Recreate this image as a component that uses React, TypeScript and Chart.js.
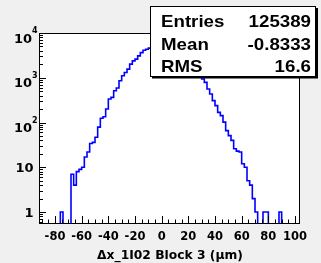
import React, { useEffect, useRef } from 'react';
import { Chart, registerables } from 'chart.js';

Chart.register(...registerables);

// ---- data ----
const binStart = -90;
const binWidth = 2;
const counts = [
  0, 0, 0, 0, 0, 0, 0, 1, 0, 0,
  0, 7, 4, 8, 9, 10, 17, 22, 34, 36,
  47, 79, 125, 135, 201, 336, 365, 514, 590, 857,
  1107, 1312, 1560, 2015, 2387, 2604, 3083, 3650, 4126, 4347,
  4600, 4950, 5250, 5500, 5600, 5550, 5400, 5100, 4750, 4300,
  3850, 3400, 2950, 2550, 2200, 1900, 1650, 1400, 1200, 1050,
  936, 787, 561, 434, 308, 239, 169, 143, 102, 66,
  51, 40, 26, 23, 22, 12, 10, 5, 4, 2,
  1, 0, 0, 1, 1, 0, 0, 0, 0, 1,
  0, 0, 0, 0, 0,
];
const xTickValues = [-80, -60, -40, -20, 0, 20, 40, 60, 80, 100];
const yTickValues = [1, 10, 100, 1000, 10000];
const yTickMantissa = ['1', '10', '10', '10', '10'];
const yTickExponent = ['', '', '2', '3', '4'];
const statsLabels = ['Entries', 'Mean', 'RMS'];
const statsValues = ['125389', '-0.8333', '16.6'];
const xTitle = 'Δx_1I02 Block 3 (μm)';

const X_MIN = -91.25;
const X_MAX = 103.75;
const Y_MIN = 0.57;
const Y_MAX = 10000;
const EMPTY_LEVEL = 0.1; // empty bins drawn below the visible axis range

const FONT = 'DejaVu Sans';

const rootStyle = {
  id: 'rootStyle',
  beforeDraw(chart: any) {
    const { ctx, chartArea: a, width, height } = chart;
    ctx.save();
    ctx.fillStyle = '#f0f0f0';
    ctx.fillRect(0, 0, width, height);
    ctx.fillStyle = '#ffffff';
    ctx.fillRect(a.left, a.top, a.right - a.left, a.bottom - a.top);
    ctx.restore();
  },
  afterDatasetsDraw(chart: any) {
    const { ctx, chartArea: a, scales } = chart;
    const xs = scales.x;
    const ys = scales.y;
    ctx.save();
    ctx.strokeStyle = '#000';
    ctx.lineWidth = 1;
    ctx.beginPath();
    for (let v = -90; v <= 100; v += 5) {
      const px = Math.round(xs.getPixelForValue(v)) + 0.5;
      const len = v % 20 === 0 ? 7 : 3.5;
      ctx.moveTo(px, a.bottom);
      ctx.lineTo(px, a.bottom - len);
    }
    for (let d = -1; d <= 4; d++) {
      for (let m = 1; m <= 9; m++) {
        const v = m * Math.pow(10, d);
        if (v < Y_MIN || v > Y_MAX * 1.0001) continue;
        const py = Math.round(ys.getPixelForValue(v)) + 0.5;
        const len = m === 1 ? 6 : 3;
        ctx.moveTo(a.left, py);
        ctx.lineTo(a.left + len, py);
      }
    }
    ctx.stroke();
    ctx.strokeRect(a.left - 0.5, a.top + 0.5, a.right - a.left, a.bottom - a.top);

    // y labels (ROOT style 10^n)
    ctx.fillStyle = '#000';
    ctx.textAlign = 'right';
    ctx.textBaseline = 'alphabetic';
    yTickValues.forEach((v, i) => {
      const ty = ys.getPixelForValue(v);
      const exp = yTickExponent[i];
      ctx.font = `bold 13px "${FONT}"`;
      if (!exp) {
        ctx.fillText(yTickMantissa[i], 33.5, ty + 4.8);
      } else {
        ctx.fillText(yTickMantissa[i], 32, ty + 9.5);
        ctx.textAlign = 'left';
        ctx.font = `bold 8px "${FONT}"`;
        ctx.fillText(exp, 32, ty + 0.3);
        ctx.textAlign = 'right';
      }
    });
    ctx.restore();
  },
  afterDraw(chart: any) {
    const { ctx } = chart;
    ctx.save();
    // stats box
    ctx.fillStyle = '#000';
    ctx.fillRect(152, 76.5, 166, 2);
    ctx.fillRect(316, 8, 2, 70);
    ctx.fillStyle = '#ffffff';
    ctx.fillRect(150.5, 6.5, 165, 70);
    ctx.strokeStyle = '#000';
    ctx.lineWidth = 1;
    ctx.strokeRect(150.5, 6.5, 165, 70);
    ctx.fillStyle = '#000';
    ctx.font = 'bold 17px "Liberation Sans"';
    ctx.textBaseline = 'alphabetic';
    const sx = 1.1;
    ctx.scale(sx, 1);
    const baselines = [27, 49.5, 72];
    statsLabels.forEach((t, i) => {
      ctx.textAlign = 'left';
      ctx.fillText(t, 161 / sx, baselines[i]);
      ctx.textAlign = 'right';
      ctx.fillText(statsValues[i], 311 / sx, baselines[i]);
    });
    ctx.restore();
  },
};

export default function App() {
  const canvasRef = useRef<HTMLCanvasElement | null>(null);

  useEffect(() => {
    if (!canvasRef.current) return;
    const points = counts.map((c, i) => ({ x: binStart + i * binWidth, y: c > 0 ? c : EMPTY_LEVEL }));
    points.push({ x: binStart + counts.length * binWidth, y: EMPTY_LEVEL });

    const chart = new Chart(canvasRef.current, {
      type: 'line',
      data: {
        datasets: [
          {
            data: points,
            borderColor: '#0000ff',
            borderWidth: 1.6,
            pointRadius: 0,
            stepped: 'before',
            fill: false,
            tension: 0,
            clip: 0,
          } as any,
        ],
      },
      options: {
        responsive: false,
        animation: false,
        devicePixelRatio: 1,
        layout: { padding: { top: 33, right: 21, left: 0, bottom: 0 } },
        plugins: { legend: { display: false }, tooltip: { enabled: false } },
        scales: {
          x: {
            type: 'linear',
            min: X_MIN,
            max: X_MAX,
            grid: { display: false, drawTicks: false },
            border: { display: false },
            ticks: {
              autoSkip: false,
              maxRotation: 0,
              minRotation: 0,
              padding: 7,
              color: '#000',
              font: { family: FONT, weight: 'bold', size: 11.5 },
              callback: (v: any) => String(v),
            },
            afterBuildTicks: (s: any) => {
              s.ticks = xTickValues.map((v) => ({ value: v }));
            },
            afterFit: (s: any) => {
              s.height = 40;
            },
            title: {
              display: true,
              text: xTitle,
              color: '#000',
              font: { family: FONT, weight: 'bold', size: 12.3 },
              padding: { top: 0, bottom: 0 },
            },
          },
          y: {
            type: 'logarithmic',
            min: Y_MIN,
            max: Y_MAX,
            grid: { display: false, drawTicks: false },
            border: { display: false },
            ticks: { display: false },
            afterBuildTicks: (s: any) => {
              s.ticks = yTickValues.map((v) => ({ value: v }));
            },
            afterFit: (s: any) => {
              s.width = 40;
            },
          },
        },
      } as any,
      plugins: [rootStyle],
    });
    return () => chart.destroy();
  }, []);

  return (
    <div style={{ position: 'fixed', left: 0, top: 0, width: 321, height: 263 }}>
      <canvas ref={canvasRef} width={321} height={263} />
    </div>
  );
}
